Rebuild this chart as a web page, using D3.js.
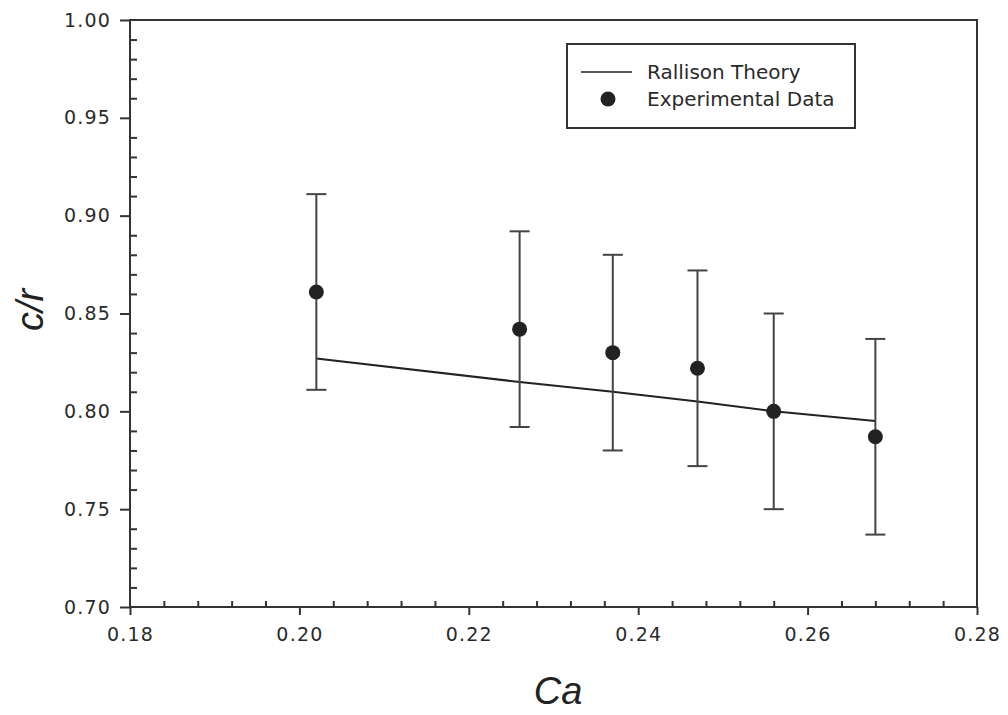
<!DOCTYPE html>
<html lang="en">
<head>
    <meta charset="UTF-8">
    <title>c/r vs Ca</title>
    <script src="https://d3js.org/d3.v7.min.js"></script>
    <style>
        body { margin: 0; background: #fff; }
        .tick text { font-family: "DejaVu Sans", sans-serif; font-size: 19px; fill: #2a2a2a; letter-spacing: 1.2px; }
        .domain { display: none; }
        .tick line { stroke: #333; stroke-width: 2; }
        .legend text { font-family: "DejaVu Sans", sans-serif; font-size: 20px; fill: #2a2a2a; }
        .title { font-family: "Liberation Sans", Arial, sans-serif; font-style: italic; fill: #222; }
    </style>
</head>
<body>
    <svg width="1008" height="715"></svg>

    <script>
        // data
        const caValues = [0.202, 0.226, 0.237, 0.247, 0.256, 0.268];
        const crValues = [0.861, 0.842, 0.830, 0.822, 0.800, 0.787];
        const crErr = [0.050, 0.050, 0.050, 0.050, 0.050, 0.050];
        const theoryCa = [0.202, 0.226, 0.237, 0.247, 0.256, 0.268];
        const theoryCr = [0.827, 0.815, 0.810, 0.805, 0.800, 0.795];

        const xTicks = [0.18, 0.20, 0.22, 0.24, 0.26, 0.28];
        const yTicks = [0.70, 0.75, 0.80, 0.85, 0.90, 0.95, 1.00];
        const legendLabels = ["Rallison Theory", "Experimental Data"];

        const svg = d3.select("svg");
        const margin = { top: 20, right: 31, bottom: 108, left: 130 };
        const width = 1008 - margin.left - margin.right;
        const height = 715 - margin.top - margin.bottom;

        const g = svg.append("g").attr("transform", `translate(${margin.left},${margin.top})`);

        const x = d3.scaleLinear().domain([0.18, 0.28]).range([0, width]);
        const y = d3.scaleLinear().domain([0.70, 1.00]).range([height, 0]);

        // minor ticks (inside)
        const xMinor = d3.range(0, 26).map(i => 0.18 + i * 0.004).filter((d, i) => i % 5 !== 0);
        const yMinor = d3.range(0, 31).map(i => 0.70 + i * 0.01).filter((d, i) => i % 5 !== 0);

        g.append("g")
            .attr("transform", `translate(0,${height})`)
            .call(d3.axisBottom(x).tickValues(xMinor).tickSize(-6).tickFormat(""));
        g.append("g")
            .call(d3.axisLeft(y).tickValues(yMinor).tickSize(-7).tickFormat(""));

        // major ticks (outside)
        g.append("g")
            .attr("transform", `translate(0,${height})`)
            .call(d3.axisBottom(x).tickValues(xTicks).tickSize(8).tickPadding(13).tickFormat(d3.format(".2f")));
        g.append("g")
            .call(d3.axisLeft(y).tickValues(yTicks).tickSize(10).tickPadding(9).tickFormat(d3.format(".2f")));

        // frame
        g.append("rect")
            .attr("width", width)
            .attr("height", height)
            .attr("fill", "none")
            .attr("stroke", "#333")
            .attr("stroke-width", 2);

        // theory line
        const line = d3.line().x(d => x(d[0])).y(d => y(d[1]));
        g.append("path")
            .datum(theoryCa.map((c, i) => [c, theoryCr[i]]))
            .attr("d", line)
            .attr("fill", "none")
            .attr("stroke", "#222")
            .attr("stroke-width", 2);

        // error bars
        const pts = caValues.map((c, i) => ({ ca: c, cr: crValues[i], err: crErr[i] }));
        const bars = g.append("g").attr("stroke", "#444").attr("stroke-width", 2);
        bars.selectAll(".v").data(pts).enter().append("line")
            .attr("x1", d => x(d.ca)).attr("x2", d => x(d.ca))
            .attr("y1", d => y(d.cr + d.err)).attr("y2", d => y(d.cr - d.err));
        bars.selectAll(".t").data(pts).enter().append("line")
            .attr("x1", d => x(d.ca) - 10).attr("x2", d => x(d.ca) + 10)
            .attr("y1", d => y(d.cr + d.err)).attr("y2", d => y(d.cr + d.err));
        bars.selectAll(".b").data(pts).enter().append("line")
            .attr("x1", d => x(d.ca) - 10).attr("x2", d => x(d.ca) + 10)
            .attr("y1", d => y(d.cr - d.err)).attr("y2", d => y(d.cr - d.err));

        // points
        g.append("g").selectAll("circle").data(pts).enter().append("circle")
            .attr("cx", d => x(d.ca))
            .attr("cy", d => y(d.cr))
            .attr("r", 7.5)
            .attr("fill", "#222");

        // legend
        const legend = svg.append("g").attr("class", "legend").attr("transform", "translate(567,44)");
        legend.append("rect")
            .attr("width", 288).attr("height", 84)
            .attr("fill", "#fff").attr("stroke", "#333").attr("stroke-width", 2);
        legend.append("line")
            .attr("x1", 14).attr("x2", 65).attr("y1", 28).attr("y2", 28)
            .attr("stroke", "#222").attr("stroke-width", 1.5);
        legend.append("circle").attr("cx", 41).attr("cy", 55).attr("r", 7.5).attr("fill", "#222");
        legend.selectAll("text").data(legendLabels).enter().append("text")
            .attr("x", 80)
            .attr("y", (d, i) => 28 + i * 27)
            .attr("dy", "0.35em")
            .text(d => d);

        // axis titles
        svg.append("text")
            .attr("class", "title")
            .attr("x", 558).attr("y", 704)
            .attr("text-anchor", "middle")
            .attr("font-size", 38)
            .text("Ca");
        svg.append("text")
            .attr("class", "title")
            .attr("transform", "translate(43,310) rotate(-90)")
            .attr("text-anchor", "middle")
            .attr("font-size", 38)
            .text("c/r");
    </script>
</body>
</html>
